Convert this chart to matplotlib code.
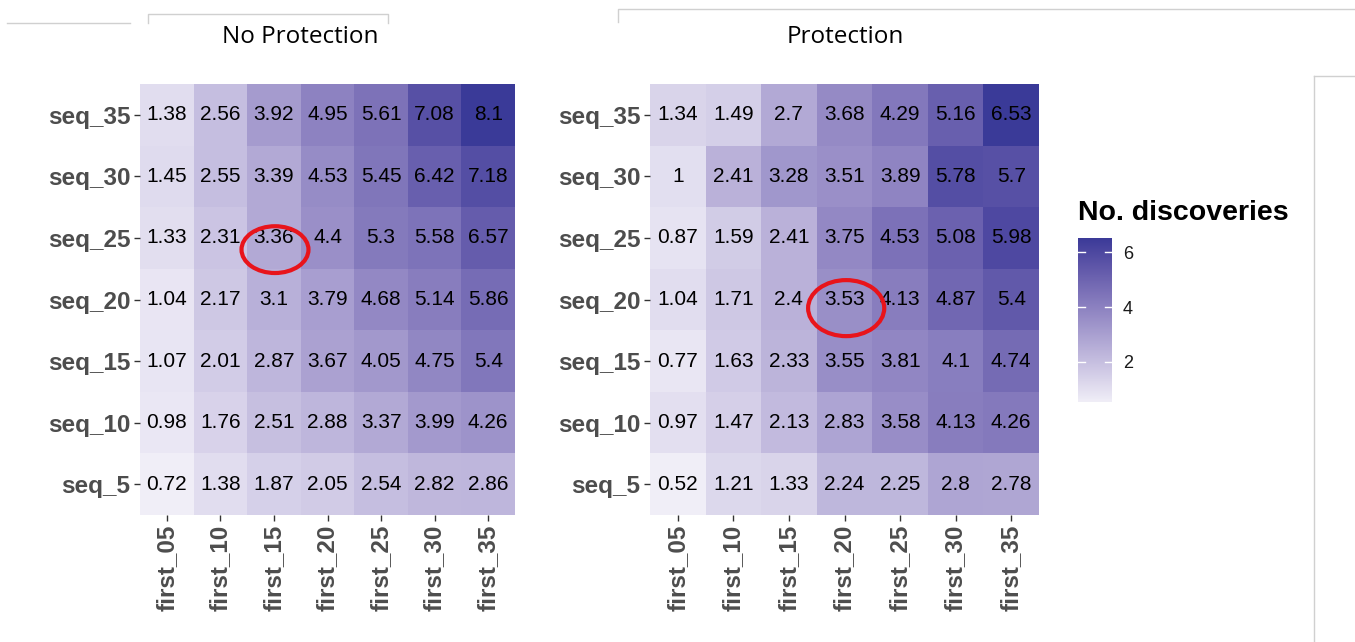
import numpy as np
import matplotlib.pyplot as plt
from matplotlib.colors import ListedColormap, Normalize, to_rgb
from matplotlib.patches import Ellipse
from matplotlib.lines import Line2D

cols = ['first_05', 'first_10', 'first_15', 'first_20', 'first_25', 'first_30', 'first_35']
rows = ['seq_35', 'seq_30', 'seq_25', 'seq_20', 'seq_15', 'seq_10', 'seq_5']  # top to bottom

no_protection = [
    [1.38, 2.56, 3.92, 4.95, 5.61, 7.08, 8.1],
    [1.45, 2.55, 3.39, 4.53, 5.45, 6.42, 7.18],
    [1.33, 2.31, 3.36, 4.4, 5.3, 5.58, 6.57],
    [1.04, 2.17, 3.1, 3.79, 4.68, 5.14, 5.86],
    [1.07, 2.01, 2.87, 3.67, 4.05, 4.75, 5.4],
    [0.98, 1.76, 2.51, 2.88, 3.37, 3.99, 4.26],
    [0.72, 1.38, 1.87, 2.05, 2.54, 2.82, 2.86],
]
protection = [
    [1.34, 1.49, 2.7, 3.68, 4.29, 5.16, 6.53],
    [1, 2.41, 3.28, 3.51, 3.89, 5.78, 5.7],
    [0.87, 1.59, 2.41, 3.75, 4.53, 5.08, 5.98],
    [1.04, 1.71, 2.4, 3.53, 4.13, 4.87, 5.4],
    [0.77, 1.63, 2.33, 3.55, 3.81, 4.1, 4.74],
    [0.97, 1.47, 2.13, 2.83, 3.58, 4.13, 4.26],
    [0.52, 1.21, 1.33, 2.24, 2.25, 2.8, 2.78],
]
legend_ticks = [2, 4, 6]

W, H = 1355, 642
fig = plt.figure(figsize=(W / 100, H / 100), dpi=100)
font = ['Liberation Sans', 'DejaVu Sans']


# gradient interpolated in CIELAB, like ggplot's scale_fill_gradient
def rgb2lab(c):
    c = np.array(c)
    c = np.where(c > 0.04045, ((c + 0.055) / 1.055) ** 2.4, c / 12.92)
    M = np.array([[0.4124, 0.3576, 0.1805], [0.2126, 0.7152, 0.0722], [0.0193, 0.1192, 0.9505]])
    xyz = M @ c / np.array([0.95047, 1.0, 1.08883])
    f = np.where(xyz > 0.008856, np.cbrt(xyz), 7.787 * xyz + 16 / 116)
    return np.array([116 * f[1] - 16, 500 * (f[0] - f[1]), 200 * (f[1] - f[2])])


def lab2rgb(lab):
    L, a, b = lab
    fy = (L + 16) / 116
    fx = fy + a / 500
    fz = fy - b / 200
    f = np.array([fx, fy, fz])
    xyz = np.where(f ** 3 > 0.008856, f ** 3, (f - 16 / 116) / 7.787) * np.array([0.95047, 1.0, 1.08883])
    Mi = np.array([[3.2406, -1.5372, -0.4986], [-0.9689, 1.8758, 0.0415], [0.0557, -0.2040, 1.0570]])
    c = Mi @ xyz
    c = np.where(c > 0.0031308, 1.055 * np.clip(c, 0, None) ** (1 / 2.4) - 0.055, 12.92 * c)
    return np.clip(c, 0, 1)


lo, hi = rgb2lab(to_rgb('#F0EEF7')), rgb2lab(to_rgb('#3A3A98'))
cmap = ListedColormap([lab2rgb(lo + t * (hi - lo)) for t in np.linspace(0, 1, 256)])


def box(x0, y0, x1, y1):
    # pixel box (top-left origin) -> figure fraction rect
    return [x0 / W, 1 - y1 / H, (x1 - x0) / W, (y1 - y0) / H]


def heatmap(rect, data, circle):
    ax = fig.add_axes(rect)
    z = np.array(data)[::-1]  # bottom row first
    norm = Normalize(z.min(), z.max())
    ax.pcolormesh(np.arange(8), np.arange(8), z, cmap=cmap, norm=norm)
    for i in range(7):
        for j in range(7):
            ax.text(j + 0.5, i + 0.5, '{:g}'.format(z[i, j]), ha='center', va='center',
                    fontsize=15, family=font, color='black')
    ax.set_xlim(0, 7)
    ax.set_ylim(0, 7)
    ax.set_xticks(np.arange(7) + 0.5)
    ax.set_xticklabels(cols, rotation=90, fontsize=17.5, fontweight='bold', family=font, color='#4D4D4D')
    ax.set_yticks(np.arange(7) + 0.5)
    ax.set_yticklabels(rows[::-1], fontsize=17.5, fontweight='bold', family=font, color='#4D4D4D')
    ax.tick_params(length=4, width=1, color='#333333', pad=3)
    for s in ax.spines.values():
        s.set_visible(False)
    cx, cy, cw, ch = circle
    ax.add_patch(Ellipse((cx, cy), cw, ch, fill=False, edgecolor='#E8141B', lw=3, clip_on=False, zorder=5))
    return ax, norm


ax1, _ = heatmap(box(140, 84, 515, 515), no_protection, (2.52, 4.31, 1.25, 0.76))
ax2, norm2 = heatmap(box(650, 84, 1039, 515), protection, (3.53, 3.36, 1.37, 0.91))

fig.text(300 / W, 1 - 37 / H, 'No Protection', ha='center', va='center', fontsize=17.5, family=['Open Sans', 'DejaVu Sans'])
fig.text(845 / W, 1 - 37 / H, 'Protection', ha='center', va='center', fontsize=17.5, family=['Open Sans', 'DejaVu Sans'])

# colour bar legend
cax = fig.add_axes(box(1078, 238, 1112, 402))
grad = np.linspace(norm2.vmin, norm2.vmax, 200).reshape(-1, 1)
cax.imshow(grad, aspect='auto', cmap=cmap, norm=norm2, origin='lower',
           extent=[0, 1, norm2.vmin, norm2.vmax])
cax.set_xlim(0, 1)
cax.set_ylim(norm2.vmin, norm2.vmax)
cax.set_xticks([])
cax.yaxis.tick_right()
cax.set_yticks(legend_ticks)
cax.set_yticklabels([str(t) for t in legend_ticks], fontsize=13, family=font, color='#1A1A1A')
cax.tick_params(axis='y', length=0, pad=8)
for t in legend_ticks:
    cax.plot([0, 0.2], [t, t], color='white', lw=1)
    cax.plot([0.8, 1], [t, t], color='white', lw=1)
for s in cax.spines.values():
    s.set_visible(False)
fig.text(1078 / W, 1 - 213 / H, 'No. discoveries', ha='left', va='center', fontsize=20.5,
         fontweight='bold', family=font)

# faint slide borders from the screenshot
def fline(xs, ys):
    fig.add_artist(Line2D([x / W for x in xs], [1 - y / H for y in ys], color='#D0D0D0', lw=1))

fline([7, 130], [23, 23])
fline([148, 148, 388, 388], [23, 14, 14, 23])
fline([618, 618, 1355], [22, 9, 9])
fline([1314, 1314], [642, 76])
fline([1314, 1355], [76, 76])

fig.savefig('out.png', dpi=100)
